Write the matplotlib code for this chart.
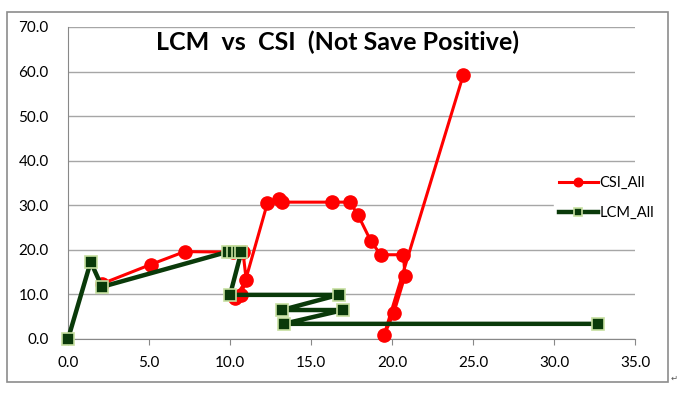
import matplotlib
matplotlib.use('Agg')
import matplotlib.pyplot as plt
from matplotlib.patches import Rectangle

# CSI_All series (red circles), in plotting order
csi_x = [2.1, 5.1, 7.2, 10.2, 10.8, 11.0, 10.3, 10.7, 12.3, 13.0, 13.2, 16.3, 17.4, 17.9, 18.7, 19.3, 20.7, 20.8, 20.1, 19.5, 24.4]
csi_y = [12.4, 16.7, 19.6, 19.5, 19.5, 13.2, 9.1, 9.9, 30.4, 31.5, 30.7, 30.7, 30.7, 27.8, 21.9, 18.9, 18.9, 14.2, 5.8, 0.8, 59.3]

# LCM_All series (dark green squares), in plotting order
lcm_x = [0.0, 1.4, 2.1, 9.9, 10.2, 10.5, 10.7, 10.0, 16.7, 13.2, 17.0, 13.3, 32.7]
lcm_y = [0.0, 17.3, 11.7, 19.6, 19.6, 19.6, 19.6, 9.9, 9.9, 6.5, 6.5, 3.4, 3.4]

x_ticks = [0, 5, 10, 15, 20, 25, 30, 35]
y_ticks = [0, 10, 20, 30, 40, 50, 60, 70]

fig = plt.figure(figsize=(6.8, 3.94), dpi=100)
ax = fig.add_axes([0.1, 0.1396, 0.834, 0.792])

ax.plot(csi_x, csi_y, color='#FF0000', lw=2.2, marker='o', ms=9.5,
        mfc='#FF0000', mec='#FF0000', label='CSI_All', clip_on=False, zorder=3)
ax.plot(lcm_x, lcm_y, color='#0A3A0A', lw=3.2, marker='s', ms=9,
        mfc='#0A3A0A', mec='#C6DFA0', mew=1.2, label='LCM_All', clip_on=False, zorder=4)

ax.set_xlim(0, 35)
ax.set_ylim(0, 70)
ax.set_xticks(x_ticks)
ax.set_yticks(y_ticks)
ax.set_xticklabels([f'{v:.1f}' for v in x_ticks], fontsize=11, family='Lato')
ax.set_yticklabels([f'{v:.1f}' for v in y_ticks], fontsize=11, family='Lato')
ax.tick_params(axis='x', length=4, color='#888888', pad=8)
ax.tick_params(axis='y', length=0, pad=14)
ax.grid(axis='y', color='#A6A6A6', lw=1)
ax.set_axisbelow(True)
for s in ['top', 'right']:
    ax.spines[s].set_visible(False)
for s in ['left', 'bottom']:
    ax.spines[s].set_color('#888888')

fig.text(0.497, 0.893, 'LCM  vs  CSI  (Not Save Positive)', ha='center', va='center',
         fontsize=18, fontweight='bold', family='Lato')

leg = fig.legend(loc='upper left', bbox_to_anchor=(0.815, 0.565), frameon=True,
                 fancybox=False, edgecolor='white', framealpha=1,
                 prop={'family': 'Lato', 'size': 10.5}, markerscale=0.65,
                 handlelength=2.7, handletextpad=0.1, labelspacing=1.1,
                 borderpad=0.3, borderaxespad=0)

fig.patches.append(Rectangle((7 / 680, 1 - 382 / 394), 661 / 680, 370 / 394,
                             transform=fig.transFigure, fill=False,
                             edgecolor='#8C8C8C', lw=1.2))
fig.text(674 / 680, 1 - 378 / 394, '\u21b5', fontsize=6, ha='center', va='center', color='#555555')

fig.savefig('out.png', dpi=100)
